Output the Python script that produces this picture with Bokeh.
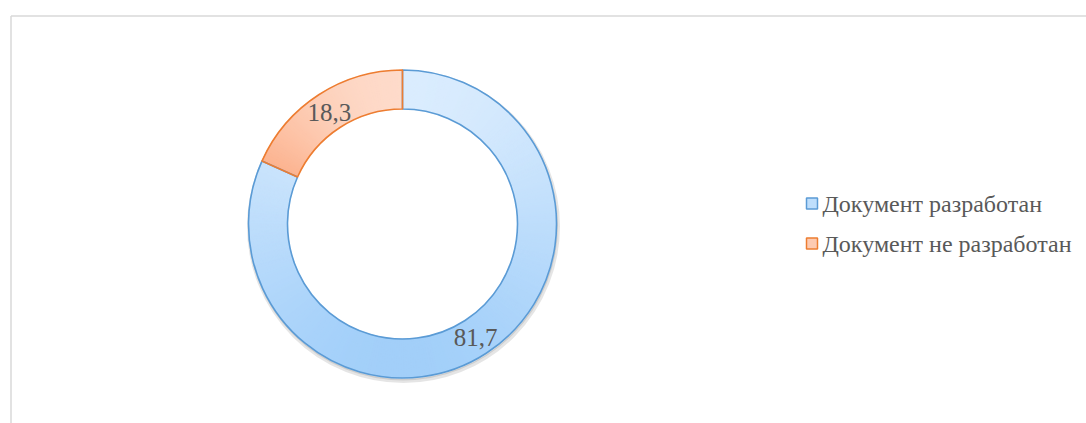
import math
from bokeh.plotting import figure
from bokeh.models import Range1d
from bokeh.core.properties import value
from bokeh.embed import file_html
from bokeh.resources import INLINE

# ---- data ----
categories = ["Документ разработан", "Документ не разработан"]
values = [81.7, 18.3]
value_labels = ["81,7", "18,3"]
line_colors = ["#5b9bd5", "#ed7d31"]
grad_top = ["#deeefe", "#fee4d8"]
grad_bottom = ["#9ecdf9", "#fcb08a"]

W, H = 1086, 423
def Y(sy):  # screen y -> data y
    return H - sy

p = figure(width=W, height=H, x_range=Range1d(0, W), y_range=Range1d(0, H),
           output_backend="svg", toolbar_location=None, min_border=0,
           x_axis_type=None, y_axis_type=None, outline_line_color=None,
           background_fill_color="white", border_fill_color="white")
p.grid.visible = False

# chart frame
p.line([10.5, 1100], [Y(15.5), Y(15.5)], line_color="#d9d9d9", line_width=1.5)
p.line([10.5, 10.5], [Y(15.5), Y(440)], line_color="#d9d9d9", line_width=1.5)

cx, cy = 402, Y(223.5)
r_in, r_out = 115, 154

def hx(c):
    c = c.lstrip("#")
    return [int(c[i:i + 2], 16) for i in (0, 2, 4)]

def mix(c1, c2, t):
    a, b = hx(c1), hx(c2)
    return "#%02x%02x%02x" % tuple(int(round(a[i] + (b[i] - a[i]) * t)) for i in range(3))

# shadow
p.circle(x=[cx + 1], y=[cy - 2.5], radius=r_out + 0.5, fill_color=None,
         line_color="#000000", line_alpha=0.10, line_width=4)
p.circle(x=[cx + 0.5], y=[cy - 1.5], radius=r_out, fill_color=None,
         line_color="#000000", line_alpha=0.10, line_width=2)

total = sum(values)
start = 90.0
slices = []
for i, v in enumerate(values):
    end = start - v / total * 360.0
    slices.append((end, start))
    start = end

# gradient fill (vertical, per slice bounding box)
for i, (a0, a1) in enumerate(slices):
    n = max(4, int(math.ceil((a1 - a0) / 1.0)))
    angs = [a0 + (a1 - a0) * k / n for k in range(n + 1)]
    ys = []
    for a in angs:
        for r in (r_in, r_out):
            ys.append(cy + r * math.sin(math.radians(a)))
    for a_ext in (90, 270, -90, 450):
        if a0 <= a_ext <= a1:
            ys.append(cy + r_out * math.sin(math.radians(a_ext)))
    ymin, ymax = min(ys), max(ys)
    xs_, ys_, sa, ea, cols = [], [], [], [], []
    for k in range(n):
        s, e = angs[k], angs[k + 1]
        m = math.radians((s + e) / 2)
        ym = cy + (r_in + r_out) / 2 * math.sin(m)
        t = (ymax - ym) / (ymax - ymin) if ymax > ymin else 0
        xs_.append(cx); ys_.append(cy)
        sa.append(math.radians(s)); ea.append(math.radians(min(e + 0.3, a1)))
        cols.append(mix(grad_top[i], grad_bottom[i], t))
    p.annular_wedge(x=xs_, y=ys_, inner_radius=r_in, outer_radius=r_out,
                    start_angle=sa, end_angle=ea, fill_color=cols,
                    line_color=cols, line_width=0.6)

# outlines
for i, (a0, a1) in enumerate(slices):
    p.annular_wedge(x=[cx], y=[cy], inner_radius=r_in, outer_radius=r_out,
                    start_angle=[math.radians(a0)], end_angle=[math.radians(a1)],
                    fill_alpha=0, line_color=line_colors[i], line_width=1.6)

# value labels
lx, ly = [], []
for (a0, a1) in slices:
    m = math.radians((a0 + a1) / 2)
    rm = (r_in + r_out) / 2
    lx.append(cx + rm * math.cos(m))
    ly.append(cy + rm * math.sin(m) - 1)
p.text(x=lx, y=ly, text=value_labels, text_align="center", text_baseline="middle",
       text_font=value("Liberation Serif"), text_font_size="25px", text_color="#595959")

# legend
leg_y = [Y(203), Y(243)]
leg_x = [811.5, 811.5]
for i in range(len(categories)):
    p.rect(x=[leg_x[i]], y=[leg_y[i]], width=11, height=11,
           fill_color=mix(grad_top[i], grad_bottom[i], 0.5),
           line_color=line_colors[i], line_width=1.5)
p.text(x=[822, 822], y=leg_y, text=categories, text_align="left", text_baseline="middle",
       text_font=value("Liberation Serif"), text_font_size="24px", text_color="#595959")

open("out.html", "w").write(file_html(p, INLINE))
